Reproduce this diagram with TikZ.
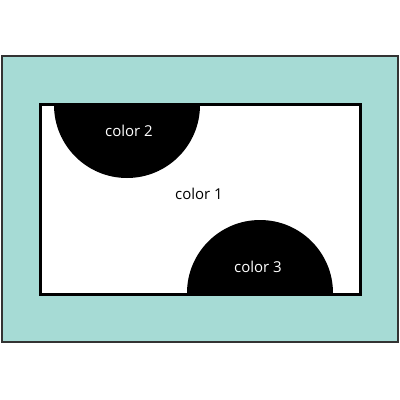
\documentclass[tikz,border=0pt]{standalone}
\usepackage{fontspec}
\setmainfont{Open Sans}
\usetikzlibrary{positioning}
\definecolor{mattecolor}{HTML}{A6DBD5}

\begin{document}
\begin{tikzpicture}[x=1pt,y=-1pt]
    \tikzstyle{matte}=[fill=mattecolor, draw=black!80, line width=1.5pt]
    \tikzstyle{field}=[fill=white, draw=black, line width=3pt]
    \tikzstyle{blob}=[fill=black]
    \tikzstyle{label}=[font=\fontsize{15}{17}\selectfont]

    \useasboundingbox (0,0) rectangle (400,400);

    % the matte and the white field
    \draw[matte] (2,56) rectangle (398,342);
    \draw[field] (40,104) rectangle (360,294);

    % the two half discs
    \fill[blob] (54,105) arc[start angle=180, end angle=0, radius=73] -- cycle;
    \fill[blob] (187,293) arc[start angle=180, end angle=360, radius=73] -- cycle;
    \draw[line width=3pt] (40,104) rectangle (360,294);

    \node[label, text=white] (c2) at (129,131) {color 2};
    \node[label] (c1) at (199,194) {color 1};
    \node[label, text=white] (c3) at (258,267) {color 3};
\end{tikzpicture}
\end{document}
